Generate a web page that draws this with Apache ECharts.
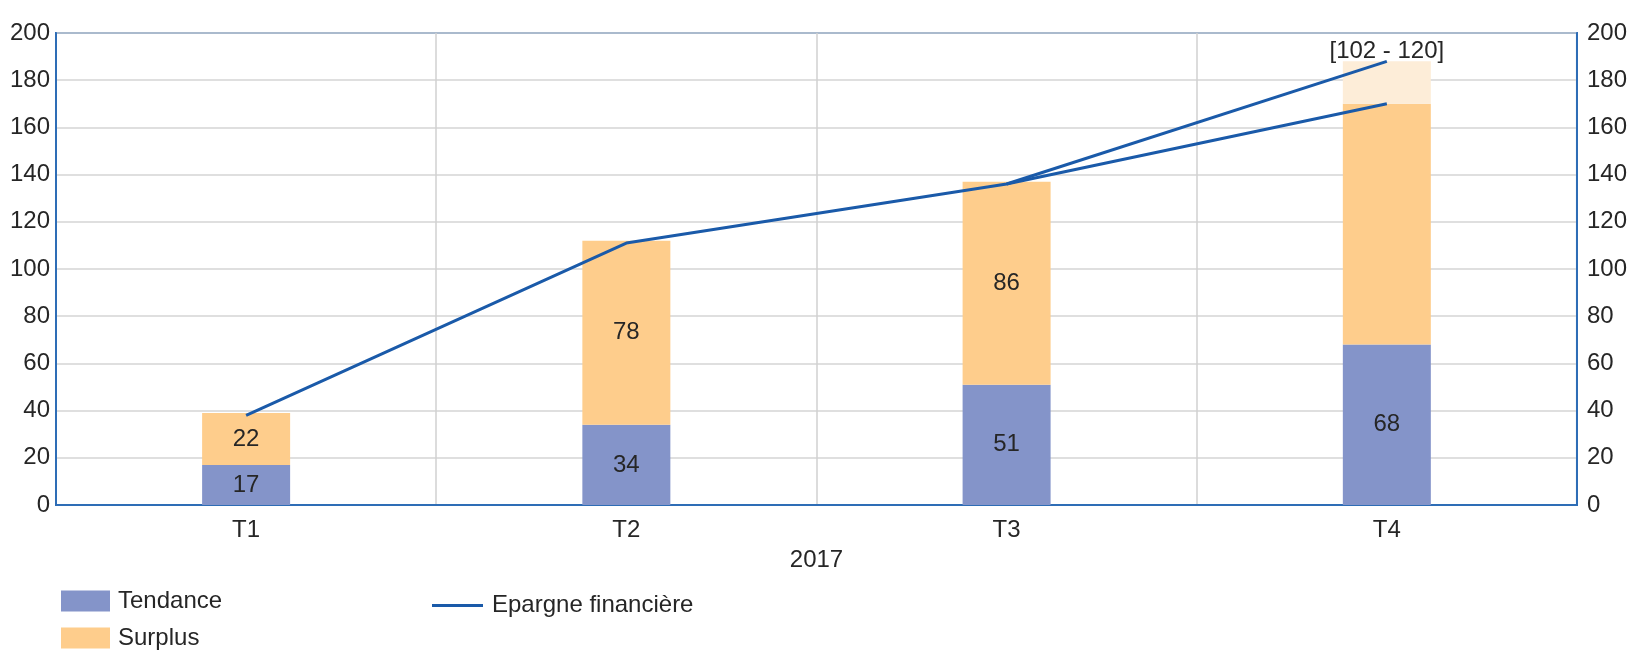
<!DOCTYPE html>
<html>
<head>
<meta charset="utf-8">
<script src="https://cdn.jsdelivr.net/npm/echarts@6/dist/echarts.min.js"></script>
<style>
	html, body { margin: 0; padding: 0; background: #fff; }
	#chart { width: 1630px; height: 652px; }
</style>
</head>
<body>
<div id="chart"></div>
<script>
// data
var categories = ['T1', 'T2', 'T3', 'T4'];
var tendance = [17, 34, 51, 68];
var surplus = [22, 78, 86, 102];
var surplusRange = ['-', '-', '-', 18];      // 102 -> 120
var epargne = [38, 111, 136, 170];
var epargneHaut = ['-', '-', 136, 188];
var yTicks = [0, 200, 20];                   // min, max, interval
var rangeLabel = '[102 - 120]';

var FONT = "'Liberation Sans', Arial, sans-serif";
var FS = 24;
var TXT = '#262626';
var BLUE = '#2E6DB6';

window.onload = function(){
	initPage();
};

function initPage(){
	var myChart = echarts.init(document.getElementById('chart'));
	myChart.setOption(buildOption());
}
//
function legendItem(name, left, top, w, h, pad){
	return {
		data: [name],
		left: left, top: top,
		padding: 0,
		itemWidth: w, itemHeight: h,
		icon: 'rect',
		textStyle: { color: TXT, fontSize: FS, fontFamily: FONT, lineHeight: 24, padding: pad }
	};
}
//
function buildOption(){
	// hide label of the last surplus bar (range shown on top)
	var surplusData = [];
	for(var i=0;i<surplus.length;i++){
		surplusData[i] = { value: surplus[i] };
		if(i == surplus.length-1) surplusData[i].label = { show: false };
	}
	var yAxisBase = {
		type: 'value',
		min: yTicks[0],
		max: yTicks[1],
		interval: yTicks[2],
		axisLine: { show: true, lineStyle: { color: BLUE, width: 2 } },
		axisTick: { show: false },
		splitLine: { show: true, lineStyle: { color: '#D4D4D4', width: 1.5 } },
		axisLabel: { color: TXT, fontSize: FS, fontFamily: FONT, padding: [0, 0, 10, 0] }
	};
	var yLeft = echarts.util.clone(yAxisBase);
	yLeft.position = 'left';
	yLeft.axisLabel.margin = 6;
	var yRight = echarts.util.clone(yAxisBase);
	yRight.position = 'right';
	yRight.axisLabel.margin = 10;
	yRight.splitLine = { show: false };

	return {
		animation: false,
		textStyle: { fontFamily: FONT },
		grid: {
			left: 56, right: 53, top: 33, bottom: 147,
			show: true, borderColor: BLUE, borderWidth: 2
		},
		legend: [
			legendItem('Tendance', 61, 589, 49, 21, [0, 0, 0, 3]),
			legendItem('Surplus', 61, 626, 49, 21, [0, 0, 0, 3]),
			legendItem('Epargne financière', 432, 589, 51, 3, [0, 0, 9, 4])
		],
		xAxis: {
			type: 'category',
			data: categories,
			name: '2017',
			nameLocation: 'middle',
			nameGap: 43,
			nameTextStyle: { color: TXT, fontSize: FS, fontFamily: FONT },
			axisLine: { show: true, lineStyle: { color: BLUE, width: 2 } },
			axisTick: { show: false },
			splitLine: { show: true, lineStyle: { color: '#D0D0D0', width: 1.5 } },
			axisLabel: { color: TXT, fontSize: FS, fontFamily: FONT, margin: 13 }
		},
		yAxis: [yLeft, yRight],
		series: [
			{
				name: 'Tendance',
				type: 'bar',
				stack: 'total',
				barWidth: 88,
				data: tendance,
				itemStyle: { color: '#8494C9' },
				label: { show: true, position: 'inside', color: TXT, fontSize: FS, fontFamily: FONT }
			},
			{
				name: 'Surplus',
				type: 'bar',
				stack: 'total',
				data: surplusData,
				itemStyle: { color: '#FECD8C' },
				label: { show: true, position: 'inside', color: TXT, fontSize: FS, fontFamily: FONT }
			},
			{
				name: 'Fourchette',
				type: 'bar',
				stack: 'total',
				data: surplusRange,
				itemStyle: { color: '#FDEDD8' },
				label: {
					show: true, position: 'top', distance: -2,
					formatter: rangeLabel,
					color: TXT, fontSize: FS, fontFamily: FONT
				}
			},
			{
				name: 'Epargne financière',
				type: 'line',
				data: epargne,
				symbol: 'none',
				lineStyle: { color: '#1A5AA9', width: 3 },
				itemStyle: { color: '#1A5AA9' },
				z: 5
			},
			{
				name: 'Epargne financière',
				type: 'line',
				data: epargneHaut,
				symbol: 'none',
				lineStyle: { color: '#1A5AA9', width: 3 },
				itemStyle: { color: '#1A5AA9' },
				z: 5
			}
		]
	};
}
</script>
</body>
</html>
